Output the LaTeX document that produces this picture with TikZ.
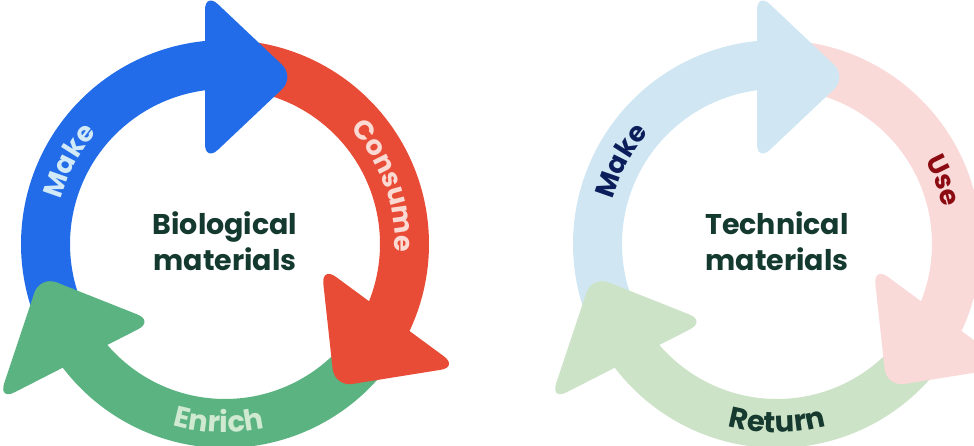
\documentclass[tikz,border=0pt]{standalone}
\usepackage{fontspec}
\setmainfont{Poppins}
\usetikzlibrary{decorations.text}
\definecolor{cblue}{HTML}{226CE9}
\definecolor{cred}{HTML}{E94C36}
\definecolor{cgreen}{HTML}{5BB381}
\definecolor{lblue}{HTML}{D0E7F3}
\definecolor{lred}{HTML}{F9DAD8}
\definecolor{lgreen}{HTML}{CDE3C8}
\definecolor{tlblue}{HTML}{D2EAF8}
\definecolor{tlred}{HTML}{FBDAD4}
\definecolor{tlgreen}{HTML}{D0EAD2}
\definecolor{tnavy}{HTML}{0B1E5B}
\definecolor{tdred}{HTML}{8C0A12}
\definecolor{tdgreen}{HTML}{163A2F}
\definecolor{ctext}{HTML}{143A2F}
\newcommand\lblfont{\bfseries\fontsize{27}{27}\selectfont}
\newcommand\btmfont{\bfseries\fontsize{29}{29}\selectfont}
\tikzset{
  band/.style={line width=49pt},
  arrowhead/.style={rounded corners=18pt},
  centretext/.style={align=center, inner sep=0pt, text=ctext,
    font=\bfseries\fontsize{28.5}{36}\selectfont},
}
\begin{document}
\begin{tikzpicture}[x=1pt,y=1pt]
\useasboundingbox (0,0) rectangle (974,446);
\clip (0,0) rectangle (974,446);
% ---------------- Biological materials ----------------
\begin{scope}[shift={(225,202)}]
  \coordinate (L) at (0,0);
  \draw[band, cred]   (85:179.5)  arc[start angle=85,  end angle=-28,  radius=179.5];
  \draw[band, cgreen] (-38:179.5) arc[start angle=-38, end angle=-150, radius=179.5];
  \draw[band, cblue]  (205:179.5) arc[start angle=205, end angle=93,   radius=179.5];
  \fill[cblue, arrowhead]  (-20,167) -- (-20,252) -- (70,167) -- (-20,82) -- cycle;
  \fill[cred, arrowhead]   (164.9,-72.6) -- (233.4,-123) -- (109.6,-142.8) -- (96.4,-22.2) -- cycle;
  \fill[cgreen, arrowhead] (-148.7,-116.8) -- (-226.5,-156.5) -- (-185,-31.8) -- (-70.9,-77.1) -- cycle;
  \path[decorate, decoration={text along path, text align=center, text color=tlblue,
      text={|\lblfont|Make}}] (187:170) arc[start angle=187, end angle=117, radius=170];
  \path[decorate, decoration={text along path, text align=center, text color=tlred,
      text={|\lblfont|Consume}}] (55:170) arc[start angle=55, end angle=-15, radius=170];
  \path[decorate, decoration={text along path, text align=center, text color=tlgreen,
      text={|\btmfont|Enrich}}] (-127:188.5) arc[start angle=-127, end angle=-57, radius=188.5];
  \node[centretext] (bio) at (0,3) {Biological\\materials};
\end{scope}
% ---------------- Technical materials ----------------
\begin{scope}[shift={(777,202)}]
  \coordinate (R) at (0,0);
  \draw[band, lred]   (85:179.5)  arc[start angle=85,  end angle=-28,  radius=179.5];
  \draw[band, lgreen] (-38:179.5) arc[start angle=-38, end angle=-150, radius=179.5];
  \draw[band, lblue]  (205:179.5) arc[start angle=205, end angle=93,   radius=179.5];
  \fill[lblue, arrowhead]  (-20,167) -- (-20,252) -- (70,167) -- (-20,82) -- cycle;
  \fill[lred, arrowhead]   (164.9,-72.6) -- (233.4,-123) -- (109.6,-142.8) -- (96.4,-22.2) -- cycle;
  \fill[lgreen, arrowhead] (-148.7,-116.8) -- (-226.5,-156.5) -- (-185,-31.8) -- (-70.9,-77.1) -- cycle;
  \path[decorate, decoration={text along path, text align=center, text color=tnavy,
      text={|\lblfont|Make}}] (187:170) arc[start angle=187, end angle=117, radius=170];
  \path[decorate, decoration={text along path, text align=center, text color=tdred,
      text={|\lblfont|Use}}] (56:170) arc[start angle=56, end angle=-14, radius=170];
  \path[decorate, decoration={text along path, text align=center, text color=tdgreen,
      text={|\btmfont|Return}}] (-125:188.5) arc[start angle=-125, end angle=-55, radius=188.5];
  \node[centretext] (tech) at (0,3) {Technical\\materials};
\end{scope}
\end{tikzpicture}
\end{document}
